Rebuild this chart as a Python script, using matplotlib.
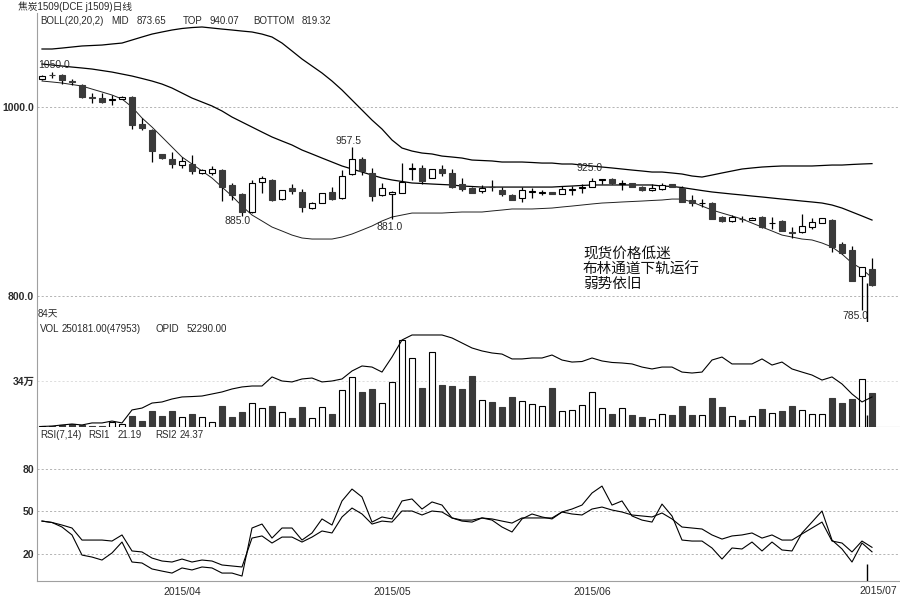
import matplotlib
matplotlib.use('Agg')
import matplotlib.pyplot as plt
import numpy as np

plt.rcParams['font.family'] = ['Liberation Sans', 'Noto Sans CJK SC']

# ---------- 数据 (j1509 日线, 84 根) ----------
open_ = [1030, 1034, 1034, 1027.5, 1023.5, 1010.5, 1009.5, 1007.5, 1008.5, 1010.5,
         982, 975.5, 950, 945, 938.5, 939.5, 930, 930, 933.5, 917.5,
         908, 889, 920.5, 923, 902.5, 914.5, 910, 893, 898.5, 910,
         903.5, 929, 945, 930, 907, 908, 909, 934.5, 935.5, 925,
         934.5, 930, 918.5, 914.5, 911, 915.5, 912, 907, 903.5, 910,
         909, 910, 908, 912, 914.5, 915.5, 923, 924, 918.5, 919.5,
         915.5, 912, 913, 918.5, 914.5, 901.5, 898, 898.5, 883.5, 879.5,
         881.5, 880.5, 883.5, 877, 879.5, 868, 868, 873, 877.5, 880.5,
         855, 848.5, 821, 828.5]
high = [1034, 1037, 1035, 1030, 1024.5, 1015, 1015, 1012.5, 1011.5, 1011.5,
        988.5, 976.5, 950.5, 952.5, 947, 949, 934.5, 937.5, 934.5, 919.5,
        908.5, 923, 927, 924, 912.5, 918.5, 913, 899.5, 909.5, 915.5,
        933.5, 957.5, 947, 935.5, 919.5, 911, 941, 941, 938.5, 934.5,
        938.5, 934.5, 925, 915, 917.5, 923, 915.5, 907.5, 915.5, 914.5,
        912, 910.5, 916.5, 916.5, 918.5, 925, 924, 924.5, 923, 920,
        916.5, 918.5, 919.5, 919, 916.5, 907, 902.5, 899.5, 884.5, 885.5,
        884.5, 883.5, 884.5, 883.5, 880.5, 873, 887, 882.5, 883, 881.5,
        857, 853, 831, 840]
low = [1028.5, 1031, 1024.5, 1023.5, 1010, 1004, 1004, 1002, 1008, 976.5,
       975.5, 942, 945.5, 935.5, 935.5, 929, 929.5, 928, 900.5, 901.5,
       885, 888, 909, 900.5, 902, 908, 889, 892.5, 898, 901.5,
       903, 928.5, 928, 900.5, 906, 881, 908.5, 923, 918.5, 924.5,
       927, 914.5, 911, 909, 909, 911, 906, 901.5, 899.5, 903.5,
       907, 907.5, 907.5, 907, 909, 915, 918.5, 918.5, 912, 915.5,
       911, 911.5, 912.5, 915.5, 899.5, 895, 894, 881.5, 878.5, 878.5,
       878.5, 880, 872, 871, 869, 861.5, 866.5, 871, 877, 846.5,
       844.5, 816, 785, 811]
close = [1033, 1033.5, 1028.5, 1026.5, 1010.5, 1009.5, 1005.5, 1008.5, 1010.5, 981,
         978, 953.5, 946, 939.5, 943, 932.5, 933.5, 934.5, 915.5, 907,
         889, 919.5, 925, 901.5, 912, 911, 894, 898.5, 909, 902.5,
         927, 945, 932.5, 906, 914.5, 910, 920.5, 935.5, 921.5, 934,
         930, 915.5, 913, 909, 914.5, 915, 908, 901.5, 912, 911,
         910, 908, 913, 913, 915.5, 921.5, 923.5, 919.5, 919.5, 915.5,
         912, 914.5, 917.5, 915.5, 899.5, 898.5, 898.5, 881.5, 879.5, 883.5,
         881, 882.5, 873, 877.5, 869, 867, 874, 878.5, 882.5, 852,
         845.5, 816, 830.5, 811.5]

boll_top = [1061.4, 1061.4, 1062.4, 1063.5, 1064.6, 1065.1, 1065.6, 1066.7, 1067.7, 1070.9,
            1074.1, 1077.2, 1079.4, 1081.5, 1083.1, 1084.1, 1084.7, 1083.6, 1082.5, 1081.5,
            1080.4, 1079.4, 1077.2, 1074.1, 1067.7, 1059.3, 1050.8, 1043.4, 1036, 1027.5,
            1018, 1007.4, 996.8, 986.2, 976.7, 965.1, 956.6, 953.4, 951.3, 950.3,
            948.1, 947.1, 946, 943.9, 943.4, 942.9, 941.8, 941.8, 941.8, 941.3,
            940.7, 940.7, 939.7, 939.7, 938.6, 937.6, 936.5, 935.5, 934.4, 933.3,
            932.3, 931.2, 931.2, 930.2, 929.1, 927, 925.9, 928, 930.2, 932.3,
            934.4, 935.5, 936.5, 937.1, 937.6, 937.6, 937.6, 937.6, 938.1, 938.6,
            938.6, 939.2, 939.7, 940.1]
boll_mid = [1045.5, 1044.4, 1043.4, 1042.3, 1041.3, 1040.2, 1038.6, 1037, 1034.9, 1032.8,
            1030.2, 1027.5, 1024.3, 1020.1, 1014.8, 1009.5, 1005.3, 1001.1, 995.8, 989.4,
            984.1, 978.8, 973.5, 968.3, 964, 959.8, 954.5, 950.3, 946, 941.8,
            937.6, 934.4, 931.2, 928, 924.9, 922.8, 921.2, 919.6, 919.1, 918.5,
            918, 917.5, 916.4, 915.9, 915.3, 915.3, 915.3, 915.3, 915.3, 915.3,
            915.3, 915.3, 915.9, 916.4, 917, 917.5, 917.5, 917.5, 917.5, 917.5,
            917.5, 917.5, 916.4, 915.9, 914.8, 913.2, 911.6, 910.1, 909, 907.9,
            906.9, 905.8, 904.8, 903.7, 902.6, 901.6, 900.5, 899.5, 898.4, 896.3,
            893.1, 888.9, 884.7, 880.4]
boll_bot = [1027.5, 1026.5, 1025.4, 1023.8, 1022.2, 1019, 1015.9, 1012.7, 1008.5, 1000,
            988.4, 978.8, 968.3, 957.7, 947.1, 939.7, 932.3, 924.9, 915.3, 905.8,
            895.2, 885.7, 879.4, 873, 868.8, 864.5, 861.4, 860.3, 860.3, 860.3,
            862.4, 865.6, 869.8, 874.1, 879.4, 883.6, 885.7, 887.8, 887.8, 887.8,
            887.8, 888.4, 888.9, 888.9, 888.9, 890, 891, 892.1, 892.1, 892.1,
            892.6, 893.1, 894.2, 895.2, 896.3, 897.4, 898.4, 898.9, 899.5, 900,
            900.5, 901.1, 901.6, 902.6, 902.6, 899.5, 895.2, 891, 887.8, 884.7,
            881.5, 877.2, 873, 868.8, 864.5, 862.4, 860.3, 859.3, 856.1, 851.9,
            844.4, 834.9, 828.6, 819.3]

# 成交量 / 持仓量, 单位: 万手
volume = [0.37, 0.74, 1.48, 2.0, 1.48, 0.74, 1.1, 3.7, 2.2, 8.1,
          4.4, 11.8, 8.1, 11.8, 7.4, 9.6, 7.4, 3.7, 15.5, 7.4,
          11.1, 17.7, 14.0, 15.5, 11.1, 6.7, 14.8, 6.7, 14.8, 9.6,
          27.3, 37.0, 25.9, 28.1, 17.7, 33.3, 64.3, 51.0, 28.8, 55.4,
          31.0, 30.3, 28.1, 37.7, 20.0, 18.5, 14.8, 22.2, 19.2, 17.0,
          15.5, 28.8, 11.8, 12.6, 16.3, 25.9, 14.0, 9.6, 14.0, 8.9,
          7.4, 5.9, 9.6, 8.9, 15.5, 8.9, 8.9, 21.4, 14.8, 8.1,
          5.2, 8.1, 13.3, 10.3, 11.8, 15.5, 12.6, 9.6, 9.6, 21.4,
          17.7, 20.7, 35.5, 25.1]
open_interest = [0.4, 0.7, 1.5, 2.2, 1.5, 3.0, 3.0, 4.4, 3.0, 12.6,
                 14.0, 17.7, 18.5, 20.7, 22.2, 22.5, 22.9, 24.4, 25.9, 28.1,
                 29.6, 30.3, 30.3, 37.0, 34.0, 33.3, 35.5, 36.2, 33.3, 34.0,
                 35.5, 41.4, 45.1, 44.3, 40.6, 51.7, 64.3, 68.0, 68.0, 68.0,
                 68.0, 65.8, 62.1, 58.4, 56.2, 54.7, 53.9, 50.3, 50.3, 51.0,
                 51.0, 53.2, 49.5, 48.0, 48.4, 51.0, 48.8, 47.7, 47.3, 46.6,
                 44.3, 42.9, 44.3, 44.3, 40.6, 39.9, 40.6, 49.5, 51.7, 46.6,
                 46.6, 46.6, 50.3, 45.8, 48.0, 42.9, 40.6, 38.4, 34.7, 37.0,
                 31.8, 24.4, 18.5, 22.2]

rsi1 = [42.9, 41.9, 38.7, 33.1, 18.9, 17.5, 15.4, 20.4, 28.1, 14.0,
        13.3, 9.1, 7.6, 6.2, 9.8, 8.4, 10.5, 9.8, 6.2, 6.2,
        4.1, 38.0, 40.8, 30.9, 38.0, 38.0, 29.5, 34.5, 44.4, 40.1,
        57.1, 65.5, 59.9, 42.2, 45.8, 44.4, 57.1, 58.5, 51.4, 56.4,
        54.2, 45.1, 42.9, 42.2, 45.1, 43.6, 38.7, 35.2, 44.4, 47.9,
        45.8, 44.4, 49.3, 51.4, 54.2, 62.7, 67.6, 54.2, 57.1, 46.5,
        43.6, 42.2, 54.9, 46.5, 29.5, 28.8, 28.8, 23.9, 16.1, 23.9,
        23.2, 28.1, 21.8, 28.1, 22.5, 21.8, 34.5, 42.2, 50.0, 29.5,
        23.2, 14.0, 27.4, 21.19]
rsi2 = [42.9, 41.9, 40.1, 38.0, 29.5, 29.5, 29.5, 28.8, 33.1, 21.8,
        21.1, 16.8, 14.7, 14.0, 16.1, 14.0, 15.4, 14.7, 11.9, 11.2,
        10.5, 30.9, 32.4, 27.4, 31.6, 31.6, 28.1, 31.6, 35.9, 34.5,
        45.8, 52.1, 47.9, 40.8, 42.9, 42.2, 50.0, 50.0, 47.2, 50.0,
        49.3, 45.1, 43.6, 43.6, 45.1, 44.4, 42.9, 41.5, 45.1, 45.1,
        45.1, 45.1, 49.3, 47.9, 47.2, 51.4, 52.8, 50.7, 49.3, 47.2,
        46.5, 45.8, 48.6, 44.4, 38.7, 38.0, 37.3, 33.1, 30.2, 32.4,
        33.1, 34.5, 30.9, 33.1, 29.5, 29.5, 33.8, 38.0, 42.2, 28.8,
        27.4, 21.1, 28.8, 24.37]

month_idx = [14, 35, 55]
month_labels = ['2015/04', '2015/05', '2015/06']
cursor_idx = 82.5

# ---------- 画布 ----------
W, H = 900, 595
fig = plt.figure(figsize=(9, 5.95), dpi=100)
fig.patch.set_facecolor('white')


def px(x, y):
    return x / W, 1 - y / H


def panel(top, bottom):
    return fig.add_axes([37 / W, 1 - bottom / H, 863 / W, (bottom - top) / H])


ax_p = panel(13, 322)
ax_v = panel(322, 427)
ax_r = panel(427, 581)

n = len(close)
x = np.arange(n)
o = np.array(open_)
c = np.array(close)
up = c >= o
DARK = '#3a3a3a'
TXT = '#2a2a2a'

for ax in (ax_p, ax_v, ax_r):
    ax.set_xlim(-0.5, 85.8)
    for s in ax.spines.values():
        s.set_visible(False)
    ax.spines['left'].set_visible(True)
    ax.spines['left'].set_color('#a0a0a0')
    ax.tick_params(length=0, labelsize=7.5, colors=TXT, pad=2)
    ax.set_xticks([])

grid_kw = dict(color='#a8a8a8', linewidth=0.6, linestyle=(0, (2.5, 2.5)), zorder=0)

# ---------- K线 + BOLL ----------
ax_p.set_ylim(772.5, 1099.5)
ax_p.set_yticks([800, 1000])
ax_p.set_yticklabels(['800.0', '1000.0'], fontweight='bold')
for v in (800, 1000):
    ax_p.axhline(v, **grid_kw)

ax_p.plot(x, boll_top, color='black', lw=0.9, zorder=2)
ax_p.plot(x, boll_mid, color='black', lw=0.9, zorder=2)
ax_p.plot(x, boll_bot, color='#202020', lw=0.7, zorder=2)

ax_p.vlines(x, low, high, color='black', lw=0.9, zorder=3)
body = np.maximum(np.abs(c - o), 0.7)
base = np.minimum(o, c)
ax_p.bar(x[up], body[up], bottom=base[up], width=0.62,
         facecolor='white', edgecolor='black', linewidth=0.8, zorder=4)
ax_p.bar(x[~up], body[~up], bottom=base[~up], width=0.62,
         facecolor=DARK, edgecolor=DARK, linewidth=0.8, zorder=4)
ax_p.vlines(cursor_idx, 772.5, 813.8, color='black', lw=1, zorder=5)

lab_kw = dict(textcoords='offset pixels', fontsize=7.5, color=TXT, va='center', ha='center')
ax_p.annotate('1050.0', (0, high[0]), xytext=(-4, 10), **{**lab_kw, 'ha': 'left'})
ax_p.annotate('885.0', (20, low[20]), xytext=(-4, -5), **lab_kw)
ax_p.annotate('957.5', (31, high[31]), xytext=(-4, 6), **lab_kw)
ax_p.annotate('881.0', (35, low[35]), xytext=(-2, -8), **lab_kw)
ax_p.annotate('925.0', (55, high[55]), xytext=(-2, 10), **lab_kw)
ax_p.annotate('785.0', (82, low[82]), xytext=(-7, -6), **lab_kw)

fig.text(*px(583, 248), '现货价格低迷\n布林通道下轨运行\n弱势依旧',
         fontsize=10.5, color='#111111', va='top', ha='left', linespacing=1.05,
         family=['Noto Sans CJK SC', 'DejaVu Sans'])

# ---------- 成交量 + 持仓 ----------
ax_v.set_ylim(0, 77.6)
ax_v.set_yticks([34])
ax_v.set_yticklabels(['34万'], fontweight='bold')
ax_v.axhline(34, color='#d8d8d8', linewidth=0.6, linestyle=(0, (2.5, 2.5)), zorder=0)
ax_v.spines['bottom'].set_visible(True)
ax_v.spines['bottom'].set_color('#a0a0a0')
vol = np.array(volume)
ax_v.bar(x[up], vol[up], width=0.62, facecolor='white', edgecolor='black',
         linewidth=0.8, zorder=3)
ax_v.bar(x[~up], vol[~up], width=0.62, facecolor=DARK, edgecolor=DARK,
         linewidth=0.8, zorder=3)
ax_v.plot(x, open_interest, color='black', lw=0.8, zorder=4)
ax_v.vlines(cursor_idx, 0, 8.9, color='black', lw=1, zorder=5)

# ---------- RSI ----------
ax_r.set_ylim(0.6, 109.3)
ax_r.set_yticks([20, 50, 80])
ax_r.set_yticklabels(['20', '50', '80'], fontweight='bold')
for v in (20, 50, 80):
    ax_r.axhline(v, **grid_kw)
ax_r.spines['bottom'].set_visible(True)
ax_r.spines['bottom'].set_color('#a0a0a0')
ax_r.plot(x, rsi2, color='black', lw=0.8, zorder=3)
ax_r.plot(x, rsi1, color='black', lw=0.8, zorder=3)
ax_r.vlines(cursor_idx, 0.6, 12.7, color='black', lw=1, zorder=5)
ax_r.set_xticks(month_idx)
ax_r.set_xticklabels(month_labels, fontsize=7.5, color=TXT)
ax_r.tick_params(axis='x', pad=4)
ax_r.text(83.6, -6.5, '2015/07', fontsize=7.5, color=TXT, ha='center', va='center')

# ---------- 标题 / 图例文字 ----------
t_kw = dict(fontsize=7, color=TXT, va='center', ha='left')
fig.text(*px(18, 7), '焦炭1509(DCE j1509)日线', **t_kw)
for xx, s in [(40, 'BOLL(20,20,2)'), (111, 'MID'), (137, '873.65'), (183, 'TOP'),
              (210, '940.07'), (253, 'BOTTOM'), (302, '819.32')]:
    fig.text(*px(xx, 21), s, **t_kw)
fig.text(*px(38, 314), '84天', **t_kw)
for xx, s in [(40, 'VOL'), (62, '250181.00(47953)'), (155, 'OPID'), (187, '52290.00')]:
    fig.text(*px(xx, 329), s, **t_kw)
for xx, s in [(40, 'RSI(7,14)'), (88, 'RSI1'), (118, '21.19'), (155, 'RSI2'), (180, '24.37')]:
    fig.text(*px(xx, 435), s, **t_kw)

fig.savefig('out.png', dpi=100, facecolor='white')
